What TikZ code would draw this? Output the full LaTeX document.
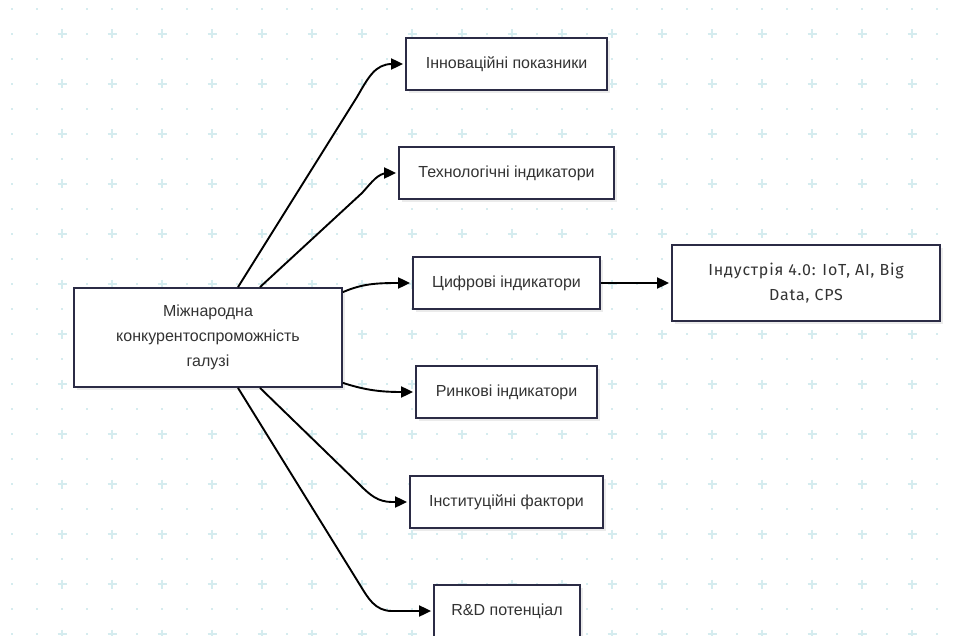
\documentclass[tikz,border=0pt]{standalone}
\usepackage{fontspec}
\setmainfont{Liberation Sans}
\newfontfamily\indfont[LetterSpace=5]{Fira Sans}
\usetikzlibrary{arrows.meta,shadows}
\definecolor{gridc}{HTML}{D5ECEF}
\definecolor{boxc}{HTML}{2B2B45}
\definecolor{txtc}{HTML}{333333}
\tikzset{
  box/.style={draw=boxc, line width=1.8pt, fill=white, text=txtc, inner sep=0pt,
    align=center, font=\fontsize{16}{25}\selectfont,
    drop shadow={shadow xshift=3pt, shadow yshift=-3pt, fill=black!8, opacity=1}},
  conn/.style={draw=black, line width=1.9pt, shorten >=2pt, -{Triangle[length=12pt,width=11pt]}},
  griddot/.style={fill=gridc},
  gridplus/.style={draw=gridc, line width=1.6pt},
}
\begin{document}
\begin{tikzpicture}[x=1pt,y=-1pt]
\useasboundingbox (0,0) rectangle (960,636);
\fill[white] (0,0) rectangle (960,636);
% background grid
\foreach \i in {0,...,37}{
  \foreach \j in {0,...,25}{
    \pgfmathsetmacro{\xx}{12+25*\i}
    \pgfmathsetmacro{\yy}{9+25*\j}
    \ifodd\j
      \ifodd\i
        \fill[griddot] (\xx-1.2,\yy-1.2) rectangle (\xx+1.2,\yy+1.2);
      \else
        \ifnum\i>0
          \draw[gridplus] (\xx-4.5,\yy) -- (\xx+4.5,\yy) (\xx,\yy-4.5) -- (\xx,\yy+4.5);
        \else
          \fill[griddot] (\xx-1.2,\yy-1.2) rectangle (\xx+1.2,\yy+1.2);
        \fi
      \fi
    \else
      \fill[griddot] (\xx-1.2,\yy-1.2) rectangle (\xx+1.2,\yy+1.2);
    \fi
  }
}
% nodes
\node[box, minimum width=268, minimum height=99] (m) at (208,337.5) {Міжнародна\\конкурентоспроможність\\галузі};
\node[box, minimum width=201, minimum height=52] (innov) at (506.5,64) {Інноваційні показники};
\node[box, minimum width=215, minimum height=52] (tech) at (506.5,173) {Технологічні індикатори};
\node[box, minimum width=187, minimum height=52] (dig) at (506.5,283) {Цифрові індикатори};
\node[box, minimum width=268, minimum height=76, font=\indfont\fontsize{16}{25}\selectfont] (ind) at (806,283) {Індустрія 4.0: IoT, AI, Big\\Data, CPS};
\node[box, minimum width=181, minimum height=52] (mkt) at (506.5,392) {Ринкові індикатори};
\node[box, minimum width=193, minimum height=52] (inst) at (506.5,502) {Інституційні фактори};
\node[box, minimum width=146, minimum height=52] (rd) at (507,611) {R\&D потенціал};
% connectors
\draw[conn] ([xshift=30pt]m.north) -- (357,97) .. controls (368,78) and (375,64) .. (392,64) -- (innov.west);
\draw[conn] ([xshift=52pt]m.north) -- (362,193) .. controls (372,182) and (378,173) .. (388,173) -- (tech.west);
\draw[conn] ([yshift=-5pt]m.north east) .. controls (362,284) and (375,283) .. (dig.west);
\draw[conn] ([yshift=5pt]m.south east) .. controls (365,390) and (380,392) .. (mkt.west);
\draw[conn] ([xshift=52pt]m.south) -- (360,485) .. controls (370,495) and (378,502) .. (392,502) -- (inst.west);
\draw[conn] ([xshift=30pt]m.south) -- (360,585) .. controls (368,598) and (375,611) .. (392,611) -- (rd.west);
\draw[conn] (dig.east) -- (ind.west);
\end{tikzpicture}
\end{document}
